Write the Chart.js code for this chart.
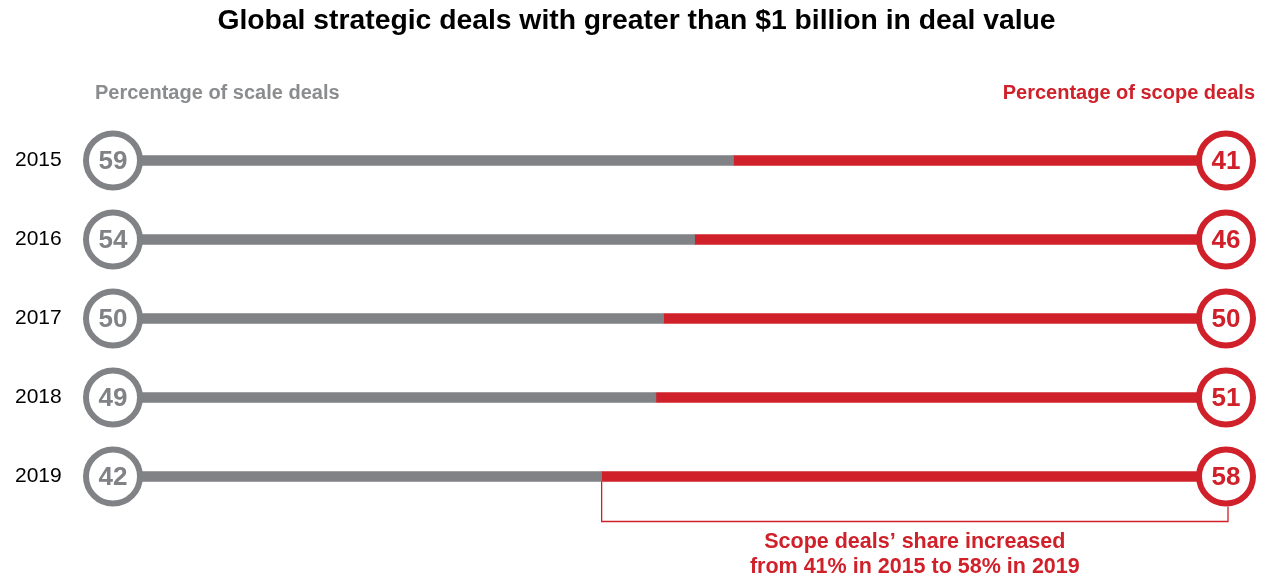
<!DOCTYPE html>
<html>
<head>
<meta charset="utf-8">
<script src="https://cdn.jsdelivr.net/npm/chart.js@4.4.1/dist/chart.umd.min.js"></script>
<style>
  html, body { margin: 0; padding: 0; background: #fff; }
  #wrap { width: 1267px; height: 580px; }
</style>
</head>
<body>
<div id="wrap"><canvas id="myChart"></canvas></div>
<script>
// values
const years = ['2015', '2016', '2017', '2018', '2019'];
const scaleShare = [59, 54, 50, 49, 42];
const scopeShare = [41, 46, 50, 51, 58];

const chartTitle = 'Global strategic deals with greater than $1 billion in deal value';
const scaleHeader = 'Percentage of scale deals';
const scopeHeader = 'Percentage of scope deals';
const noteLines = ['Scope deals\u2019 share increased', 'from 41% in 2015 to 58% in 2019'];

const GREY = '#808285';
const RED = '#d0202a';
const FONT = '"Liberation Sans", Arial, sans-serif';

// axis ends, where the two circles sit
const X_MIN = -21;
const X_MAX = 122.5;

// title, numbers in circles, headers and bracket note
const overlayPlugin = {
    id: 'overlay',
    afterDatasetsDraw(chart) {
        const ctx = chart.ctx;
        const area = chart.chartArea;
        const x = chart.scales.x;
        const y = chart.scales.y;

        ctx.save();
        ctx.textBaseline = 'middle';
        ctx.textAlign = 'center';
        ctx.fillStyle = '#000';
        ctx.font = 'bold 28.3px ' + FONT;
        ctx.fillText(chartTitle, chart.width / 2 + 3, 21);

        ctx.font = 'bold 20px ' + FONT;
        ctx.fillStyle = '#8a8c8e';
        ctx.textAlign = 'left';
        ctx.fillText(scaleHeader, 95, area.top - 28);
        ctx.fillStyle = RED;
        ctx.textAlign = 'right';
        ctx.fillText(scopeHeader, chart.width - 12, area.top - 28);

        // circle numbers
        ctx.textAlign = 'center';
        ctx.font = 'bold 26px ' + FONT;
        [2, 3].forEach(di => {
            const meta = chart.getDatasetMeta(di);
            const vals = di === 2 ? scaleShare : scopeShare;
            ctx.fillStyle = di === 2 ? GREY : RED;
            meta.data.forEach((pt, i) => {
                ctx.fillText(String(vals[i]), pt.x, pt.y + 1);
            });
        });

        // bracket under the last row
        const last = years.length - 1;
        const yRow = y.getPixelForValue(last);
        const xSplit = x.getPixelForValue(scaleShare[last]);
        const xEnd = x.getPixelForValue(X_MAX) + 2;
        const yLow = yRow + 45;
        ctx.strokeStyle = RED;
        ctx.lineWidth = 1.3;
        ctx.beginPath();
        ctx.moveTo(xSplit, yRow + 5);
        ctx.lineTo(xSplit, yLow);
        ctx.lineTo(xEnd, yLow);
        ctx.lineTo(xEnd, yRow + 30);
        ctx.stroke();

        ctx.fillStyle = RED;
        ctx.font = 'bold 21.5px ' + FONT;
        const mid = (xSplit + xEnd) / 2;
        ctx.fillText(noteLines[0], mid, yLow + 21);
        ctx.fillText(noteLines[1], mid, yLow + 46);
        ctx.restore();
    }
};

const ctx = document.getElementById('myChart');
const myChart = new Chart(ctx, {
    data: {
        datasets: [
            {
                type: 'bar',
                indexAxis: 'y',
                grouped: false,
                data: scaleShare.map((v, i) => ({y: years[i], x: [X_MIN, v]})),
                backgroundColor: GREY,
                barThickness: 10,
                borderSkipped: false,
                order: 2,
                clip: false
            },
            {
                type: 'bar',
                indexAxis: 'y',
                grouped: false,
                data: scaleShare.map((v, i) => ({y: years[i], x: [v, X_MAX]})),
                backgroundColor: RED,
                barThickness: 10,
                borderSkipped: false,
                order: 2,
                clip: false
            },
            {
                type: 'scatter',
                data: years.map(yr => ({x: X_MIN, y: yr})),
                pointRadius: 27,
                pointBorderWidth: 6,
                pointBackgroundColor: '#fff',
                pointBorderColor: GREY,
                order: 1,
                clip: false
            },
            {
                type: 'scatter',
                data: years.map(yr => ({x: X_MAX, y: yr})),
                pointRadius: 27,
                pointBorderWidth: 6,
                pointBackgroundColor: '#fff',
                pointBorderColor: RED,
                order: 1,
                clip: false
            }
        ]
    },
    options: {
        responsive: true,
        maintainAspectRatio: false,
        animation: false,
        events: [],
        layout: {padding: {left: 15, right: 41, top: 121, bottom: 64}},
        scales: {
            x: {
                type: 'linear',
                display: false,
                min: X_MIN,
                max: X_MAX
            },
            y: {
                type: 'category',
                labels: years,
                offset: true,
                grid: {display: false},
                border: {display: false},
                ticks: {
                    color: '#000',
                    font: {family: FONT, size: 21},
                    crossAlign: 'far',
                    padding: 0
                },
                afterFit(scale) { scale.width = 98; }
            }
        },
        plugins: {
            legend: {display: false},
            tooltip: {enabled: false},
            title: {display: false}
        }
    },
    plugins: [overlayPlugin]
});
</script>
</body>
</html>
